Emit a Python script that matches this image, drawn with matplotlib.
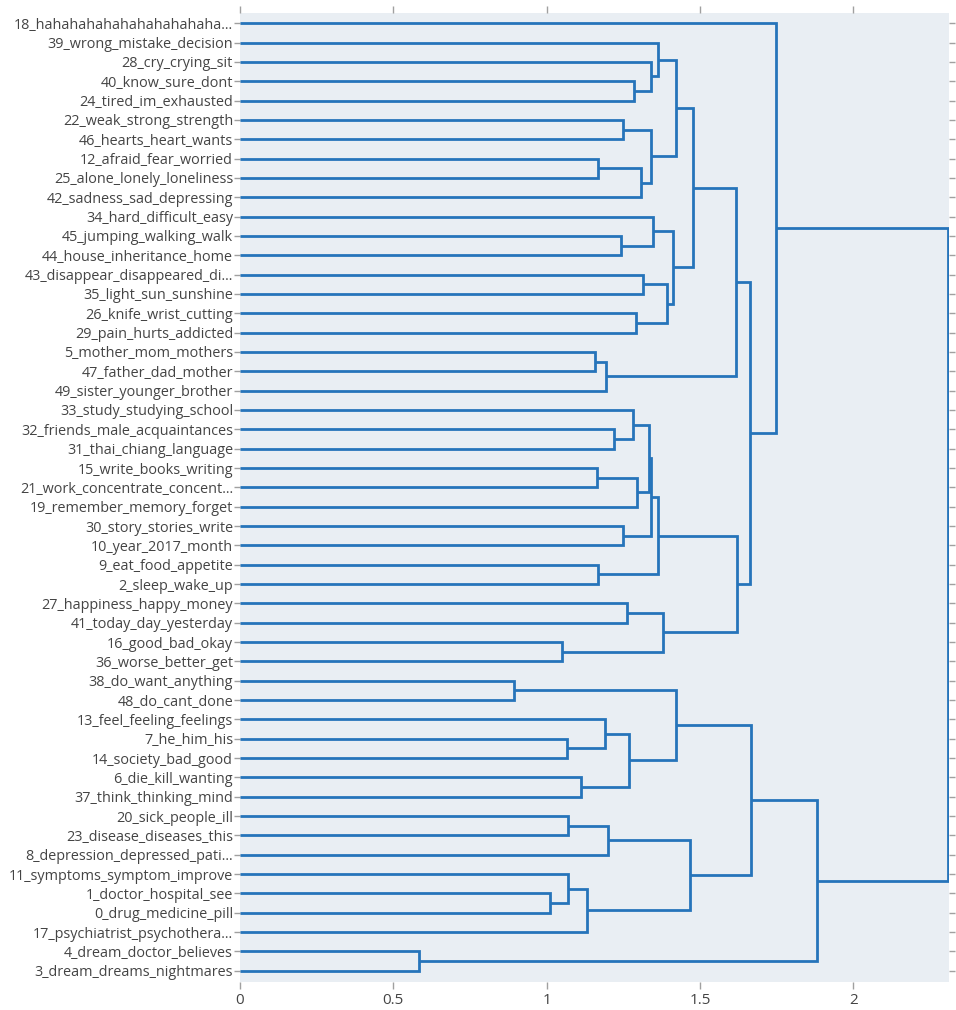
import matplotlib
matplotlib.use("Agg")
import matplotlib.pyplot as plt

plt.rcParams['font.family'] = ['Open Sans', 'DejaVu Sans']

# Topic labels, top to bottom in leaf order
topics = [
    "18_hahahahahahahahahahaha...",
    "39_wrong_mistake_decision",
    "28_cry_crying_sit",
    "40_know_sure_dont",
    "24_tired_im_exhausted",
    "22_weak_strong_strength",
    "46_hearts_heart_wants",
    "12_afraid_fear_worried",
    "25_alone_lonely_loneliness",
    "42_sadness_sad_depressing",
    "34_hard_difficult_easy",
    "45_jumping_walking_walk",
    "44_house_inheritance_home",
    "43_disappear_disappeared_di...",
    "35_light_sun_sunshine",
    "26_knife_wrist_cutting",
    "29_pain_hurts_addicted",
    "5_mother_mom_mothers",
    "47_father_dad_mother",
    "49_sister_younger_brother",
    "33_study_studying_school",
    "32_friends_male_acquaintances",
    "31_thai_chiang_language",
    "15_write_books_writing",
    "21_work_concentrate_concent...",
    "19_remember_memory_forget",
    "30_story_stories_write",
    "10_year_2017_month",
    "9_eat_food_appetite",
    "2_sleep_wake_up",
    "27_happiness_happy_money",
    "41_today_day_yesterday",
    "16_good_bad_okay",
    "36_worse_better_get",
    "38_do_want_anything",
    "48_do_cant_done",
    "13_feel_feeling_feelings",
    "7_he_him_his",
    "14_society_bad_good",
    "6_die_kill_wanting",
    "37_think_thinking_mind",
    "20_sick_people_ill",
    "23_disease_diseases_this",
    "8_depression_depressed_pati...",
    "11_symptoms_symptom_improve",
    "1_doctor_hospital_see",
    "0_drug_medicine_pill",
    "17_psychiatrist_psychothera...",
    "4_dream_doctor_believes",
    "3_dream_dreams_nightmares",
]

# Linkage: each merge joins two nodes (leaf index or 50 + merge number)
merge_left = [3, 2, 1, 5, 7, 54, 53, 52, 11, 10, 13, 15, 60, 59, 57, 17, 65,
              64, 21, 20, 23, 70, 69, 26, 72, 28, 74, 30, 32, 77, 76, 67, 0,
              34, 37, 36, 39, 85, 83, 41, 89, 45, 44, 92, 90, 88, 48, 95, 82]
merge_right = [4, 50, 51, 6, 8, 9, 55, 56, 12, 58, 14, 16, 61, 62, 63, 18, 19,
               66, 22, 68, 24, 25, 71, 27, 73, 29, 75, 31, 33, 78, 79, 80, 81,
               35, 38, 84, 40, 86, 87, 42, 43, 46, 91, 47, 93, 94, 49, 96, 97]
merge_dist = [1.285, 1.340, 1.364, 1.248, 1.168, 1.307, 1.341, 1.422, 1.243,
              1.348, 1.315, 1.290, 1.393, 1.413, 1.478, 1.156, 1.192, 1.617,
              1.221, 1.283, 1.165, 1.295, 1.334, 1.248, 1.341, 1.168, 1.364,
              1.263, 1.051, 1.380, 1.620, 1.663, 1.748, 0.894, 1.067, 1.190,
              1.113, 1.267, 1.421, 1.069, 1.199, 1.012, 1.068, 1.130, 1.467,
              1.665, 0.585, 1.880, 2.309]

x_ticks = [0, 0.5, 1, 1.5, 2]
x_tick_labels = ["0", "0.5", "1", "1.5", "2"]

line_color = "#2674ba"
bg_color = "#e9eef3"
tick_color = "#a0a0a0"
text_color = "#444444"

fig = plt.figure(figsize=(9.56, 10.10), dpi=100)
ax = fig.add_axes([240 / 956, 1 - 982 / 1010, (949 - 240) / 956, (982 - 13) / 1010])
ax.set_facecolor(bg_color)

n = len(topics)
pos_y = {i: float(i) for i in range(n)}
pos_x = {i: 0.0 for i in range(n)}
for k, (a, b, d) in enumerate(zip(merge_left, merge_right, merge_dist)):
    node = n + k
    ax.plot([pos_x[a], d, d, pos_x[b]], [pos_y[a], pos_y[a], pos_y[b], pos_y[b]],
            color=line_color, lw=2.0, solid_joinstyle="miter", solid_capstyle="butt")
    pos_y[node] = (pos_y[a] + pos_y[b]) / 2
    pos_x[node] = d

ax.set_xlim(0, 2.312)
ax.set_ylim(n - 1 + 0.58, -0.53)

for s in ax.spines.values():
    s.set_visible(False)

ax.set_yticks(range(n))
ax.set_yticklabels(topics, fontsize=10.4, color=text_color)
ax.set_xticks(x_ticks)
ax.set_xticklabels(x_tick_labels, fontsize=11, color=text_color)
ax.tick_params(axis="y", which="both", left=True, right=True, length=4,
               width=1, color=tick_color, direction="out", pad=1)
ax.tick_params(axis="x", which="both", bottom=True, top=True, length=5,
               width=1, color=tick_color, direction="out", pad=3)

fig.savefig("out.png", dpi=100, facecolor="white")
